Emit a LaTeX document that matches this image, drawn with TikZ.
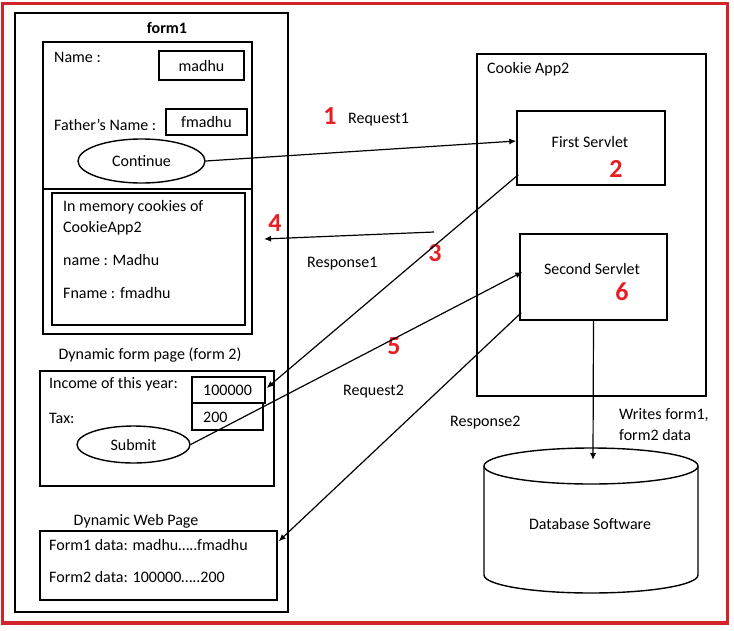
\documentclass[tikz,border=0pt]{standalone}
\usepackage{fontspec}
\setmainfont{Carlito}
\usetikzlibrary{arrows.meta,calc,shapes.geometric}
\definecolor{borderred}{RGB}{211,35,42}
\definecolor{numred}{RGB}{232,30,36}
\begin{document}
\begin{tikzpicture}[x=1pt,y=-1pt,
  box/.style={draw, line width=1.4pt, inner sep=0pt, font=\fontsize{16}{19}\selectfont},
  oval/.style={draw, ellipse, line width=1.4pt, inner sep=0pt, font=\fontsize{16}{19}\selectfont},
  txt/.style={inner sep=0pt, font=\fontsize{16}{19}\selectfont},
  lbl/.style={txt, anchor=west},
  num/.style={inner sep=0pt, text=numred, font=\fontsize{26}{30}\selectfont\bfseries},
  arr/.style={draw, line width=1.2pt, -{Latex[length=7pt,width=6pt]}}]
\useasboundingbox (0,0) rectangle (734,630);
\draw[borderred, line width=3.2pt] (2.5,3.5) rectangle (727.5,623);

% form1 column
\node[box, minimum width=273pt, minimum height=599pt] (form1) at (151.5,312.5) {};
\node[txt, font=\fontsize{16}{19}\selectfont\bfseries] (form1t) at (167,28) {form1};
\node[box, minimum width=209pt, minimum height=292pt] (in1) at (147.5,188) {};
\draw[line width=1.4pt] (in1.west |- 0,189) -- (in1.east |- 0,189);
\node[lbl] (namel) at (54,57) {Name :};
\node[box, minimum width=85pt, minimum height=29pt] (madhu) at (201.5,65.5) {madhu};
\node[lbl] (fnamel) at (54,125) {Father’s Name :};
\node[box, minimum width=81pt, minimum height=26pt] (fmadhu) at (206.5,122) {fmadhu};
\node[oval, minimum width=127pt, minimum height=44pt] (cont) at (141.5,161) {Continue};
\node[box, minimum width=193pt, minimum height=132pt] (cook) at (148.5,259) {};
\node[lbl] (c1) at (63,207) {In memory cookies of};
\node[lbl] (c2) at (63,228) {CookieApp2};
\node[lbl] (c3) at (63,260) {name : Madhu};
\node[lbl] (c4) at (63,293) {Fname : fmadhu};

\node[txt] (f2t) at (150,355) {Dynamic form page (form 2)};
\node[box, minimum width=234pt, minimum height=115pt] (form2) at (157,428.5) {};
\node[lbl] (incl) at (49,384) {Income of this year:};
\node[lbl] (taxl) at (49,418) {Tax:};
\node[box, minimum width=73pt, minimum height=26pt] (inc) at (228.5,390) {};
\node[box, minimum width=71pt, minimum height=27pt] (tax) at (227.5,416.5) {};
\node[lbl] (incv) at (203,390) {100000};
\node[lbl] (taxv) at (203,417) {200};
\node[oval, minimum width=113pt, minimum height=37pt] (sub) at (133.5,444.5) {Submit};

\node[txt] (webt) at (136,521) {Dynamic Web Page};
\node[box, minimum width=237pt, minimum height=69pt] (web) at (158.5,565.5) {};
\node[lbl] (w1) at (49,545) {Form1 data: madhu…..fmadhu};
\node[lbl] (w2) at (49,577) {Form2 data: 100000…..200};

% Cookie App2
\node[box, minimum width=229pt, minimum height=342pt] (app) at (591.5,225) {};
\node[lbl] (appt) at (487,69) {Cookie App2};
\node[box, minimum width=148pt, minimum height=74pt] (fs) at (591,148) {};
\node[txt] (fst) at (590,142) {First Servlet};
\node[num] (n2) at (616,169) {2};
\node[box, minimum width=147pt, minimum height=86pt] (ss) at (593.5,277) {};
\node[txt] (sst) at (592,269) {Second Servlet};
\node[num] (n6) at (622,292) {6};

% Database
\draw[line width=1.4pt] (484,466) -- (484,575) arc[start angle=180, end angle=0, x radius=107, y radius=18] -- (698,466);
\draw[line width=1.4pt] (591,466) ellipse [x radius=107, y radius=18];
\node[txt] (db) at (590,524) {Database Software};
\coordinate (dbtop) at (593,460);

% labels
\node[num] (n1) at (330,116) {1};
\node[lbl] (req1) at (348,120) {Request1};
\node[num] (n4) at (275,223) {4};
\node[lbl] (resp1) at (307,264) {Response1};
\node[num] (n3) at (435,253) {3};
\node[num] (n5) at (394,346) {5};
\node[lbl] (req2) at (343,392) {Request2};
\node[lbl] (resp2) at (450,423) {Response2};
\node[lbl] (wr1) at (619,415) {Writes form1,};
\node[lbl] (wr2) at (619,435) {form2 data};

% connectors
\coordinate (r1s) at (434,232);
\coordinate (r1e) at (264,239);
\draw[arr] (cont.east) -- ($(fs.west)+(0,-7)$);
\draw[arr] (r1s) -- (r1e);
\draw[arr] ($(fs.south west)+(2,-11)$) -- ($(inc.east)+(1,-2)$);
\draw[arr] (sub.east) -- ($(ss.west)+(3,-5)$);
\draw[arr] ($(ss.south west)+(2,-8)$) -- ($(web.north east)+(1,11)$);
\draw[arr] (ss.south) -- (dbtop);
\end{tikzpicture}
\end{document}
